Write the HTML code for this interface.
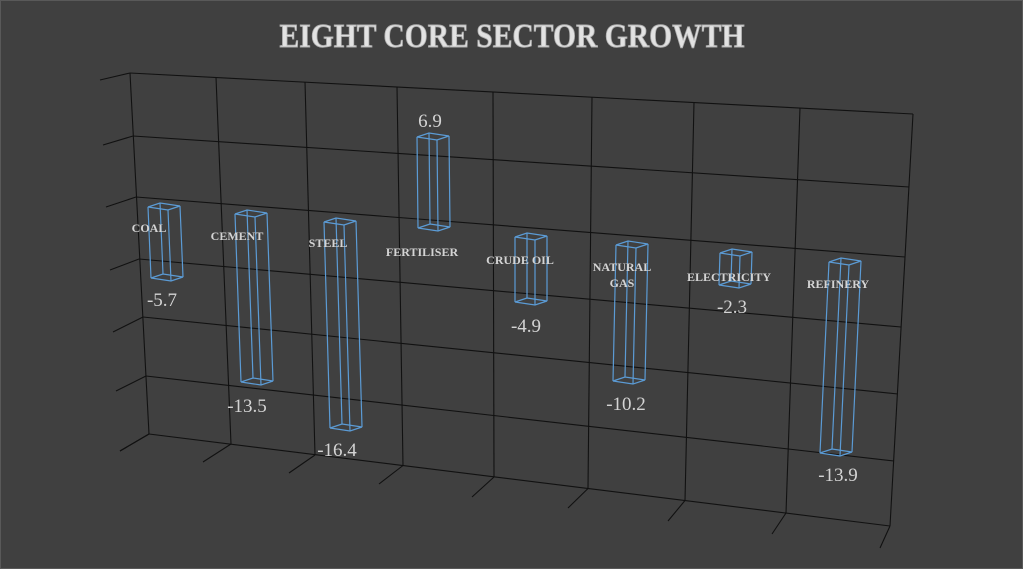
<!DOCTYPE html>
<html><head><meta charset="utf-8"><style>
html,body{margin:0;padding:0;background:#404040;}
svg{display:block;}
.g{stroke:#111;stroke-width:1.1;fill:none;}
.b{stroke:#5b9bd5;stroke-width:1.2;fill:none;}
.c{font-family:"Liberation Serif",serif;font-weight:bold;font-size:12px;fill:#d4d4d4;text-anchor:middle;}
.v{font-family:"Liberation Serif",serif;font-size:19px;fill:#d4d4d4;text-anchor:middle;}
</style></head><body>
<svg width="1023" height="569" viewBox="0 0 1023 569" xmlns="http://www.w3.org/2000/svg">
<rect x="0" y="0" width="1023" height="569" fill="#404040"/>
<rect x="0.5" y="0.5" width="1022" height="568" fill="none" stroke="#595959"/>
<text x="512" y="47" textLength="465" lengthAdjust="spacingAndGlyphs" text-anchor="middle" font-family="Liberation Serif,serif" font-weight="bold" font-size="34" fill="#e2e2e2" stroke="#b0b0b0" stroke-width="0.9">EIGHT CORE SECTOR GROWTH</text>
<g class="g">
<line x1="130" y1="73" x2="913" y2="114"/>
<line x1="133" y1="136" x2="909" y2="187"/>
<line x1="136" y1="197" x2="905" y2="257"/>
<line x1="139" y1="259" x2="901" y2="327"/>
<line x1="143" y1="317" x2="898" y2="394"/>
<line x1="146" y1="376" x2="894" y2="461"/>
<line x1="149" y1="434" x2="890" y2="526"/>
<line x1="130" y1="73" x2="149" y2="434"/>
<line x1="216" y1="77.5" x2="231" y2="444"/>
<line x1="305" y1="82" x2="315" y2="455"/>
<line x1="397" y1="87" x2="403" y2="465.5"/>
<line x1="493" y1="92" x2="494" y2="477"/>
<line x1="592" y1="97" x2="588" y2="488.5"/>
<line x1="694" y1="102.5" x2="685" y2="500.5"/>
<line x1="800" y1="108" x2="786" y2="513"/>
<line x1="913" y1="114" x2="890" y2="526"/>
<line x1="149" y1="434" x2="120" y2="451"/>
<line x1="231" y1="444" x2="203" y2="462"/>
<line x1="315" y1="455" x2="289" y2="473"/>
<line x1="403" y1="465.5" x2="379" y2="484"/>
<line x1="494" y1="477" x2="472" y2="497"/>
<line x1="588" y1="488.5" x2="568" y2="508"/>
<line x1="685" y1="500.5" x2="668" y2="521"/>
<line x1="786" y1="513" x2="772" y2="534"/>
<line x1="890" y1="526" x2="880" y2="548"/>
<line x1="130" y1="73" x2="100" y2="80"/>
<line x1="133" y1="136" x2="103" y2="145"/>
<line x1="136" y1="197" x2="106" y2="207"/>
<line x1="139" y1="259" x2="110" y2="270"/>
<line x1="143" y1="317" x2="113" y2="332"/>
<line x1="146" y1="376" x2="116" y2="391"/>
<line x1="149" y1="434" x2="120" y2="451"/>
</g>
<g class="b">
<polygon points="148,207 168,210 180,206 160,203"/><polygon points="151,278 171,281 183,277 163,274"/>
<path d="M148,207L151,278M168,210L171,281M180,206L183,277M160,203L163,274"/>
<polygon points="235,214 255,217 267,213 247,210"/><polygon points="241,382 261,385 273,381 253,378"/>
<path d="M235,214L241,382M255,217L261,385M267,213L273,381M247,210L253,378"/>
<polygon points="324,222 344,225 356,221 336,218"/><polygon points="330,428 350,431 362,427 342,424"/>
<path d="M324,222L330,428M344,225L350,431M356,221L362,427M336,218L342,424"/>
<polygon points="417,137 437,140 449,136 429,133"/><polygon points="418,228 438,231 450,227 430,224"/>
<path d="M417,137L418,228M437,140L438,231M449,136L450,227M429,133L430,224"/>
<polygon points="515,237 535,240 547,236 527,233"/><polygon points="515,302 535,305 547,301 527,298"/>
<path d="M515,237L515,302M535,240L535,305M547,236L547,301M527,233L527,298"/>
<polygon points="616,245 636,248 648,244 628,241"/><polygon points="613,381 633,384 645,380 625,377"/>
<path d="M616,245L613,381M636,248L633,384M648,244L645,380M628,241L625,377"/>
<polygon points="720,253 740,256 752,252 732,249"/><polygon points="719,285 739,288 751,284 731,281"/>
<path d="M720,253L719,285M740,256L739,288M752,252L751,284M732,249L731,281"/>
<polygon points="829,262 849,265 861,261 841,258"/><polygon points="820,453 840,456 852,452 832,449"/>
<path d="M829,262L820,453M849,265L840,456M861,261L852,452M841,258L832,449"/>
</g>
<g>
<text class="c" x="149" y="232">COAL</text>
<text class="c" x="237" y="240">CEMENT</text>
<text class="c" x="328" y="247">STEEL</text>
<text class="c" x="422" y="256">FERTILISER</text>
<text class="c" x="520" y="264">CRUDE OIL</text>
<text class="c" x="622" y="271">NATURAL</text>
<text class="c" x="622" y="287">GAS</text>
<text class="c" x="729" y="281">ELECTRICITY</text>
<text class="c" x="838" y="288">REFINERY</text>
</g>
<g>
<text class="v" x="162" y="306">-5.7</text>
<text class="v" x="247" y="412">-13.5</text>
<text class="v" x="337" y="456">-16.4</text>
<text class="v" x="430" y="127">6.9</text>
<text class="v" x="526" y="332">-4.9</text>
<text class="v" x="626" y="410">-10.2</text>
<text class="v" x="732" y="313">-2.3</text>
<text class="v" x="838" y="481">-13.9</text>
</g>
</svg>
</body></html>
